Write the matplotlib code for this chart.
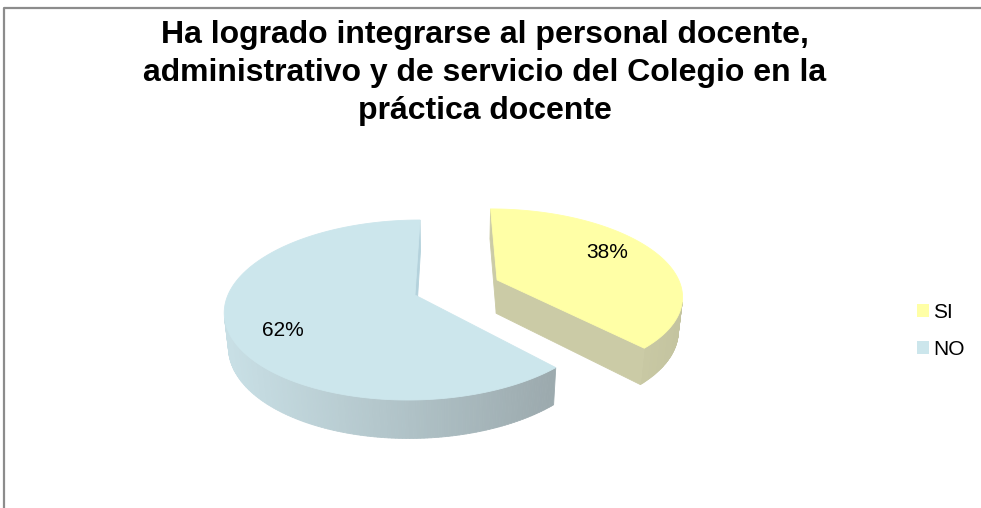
import numpy as np
import matplotlib.pyplot as plt
from matplotlib.patches import Polygon, Rectangle

# chart data
categories = ["SI", "NO"]
values = [38, 62]
pct_labels = ["38%", "62%"]
title_lines = ["Ha logrado integrarse al personal docente,",
               "administrativo y de servicio del Colegio en la",
               "práctica docente"]

top_colors = ["#FFFFA6", "#CCE6EC"]
cut_colors = ["#CBCBA6", "#B4D2DC"]
explode = [0.48, 0.0]

plt.rcParams['font.family'] = ['Liberation Sans', 'DejaVu Sans']

# fake 3d pie: simple perspective camera (pixel coords, y down)
S = 187.0
CX, CY = 450.5, 295.0
ELEV = np.radians(27.9)
DIST = 5.3
XCAM = 0.19
THICK = 0.21
cam = np.array([XCAM, -DIST * np.cos(ELEV), DIST * np.sin(ELEV)])


def project(X, Y, Z):
	u = X - XCAM
	v = Y * np.sin(ELEV) + Z * np.cos(ELEV)
	w = Y * np.cos(ELEV) - Z * np.sin(ELEV)
	k = DIST / (DIST + w)
	return CX + S * u * k, CY - S * v * k


def visible(normal, point):
	return np.dot(normal, cam - np.asarray(point)) > 0


def lerp(c1, c2, f):
	f = min(max(f, 0.0), 1.0)
	return tuple((a + (b - a) * f) / 255.0 for a, b in zip(c1, c2))


fig = plt.figure(figsize=(9.81, 5.08), dpi=100)
ax = fig.add_axes([0, 0, 1, 1])
ax.set_xlim(0, 981)
ax.set_ylim(508, 0)
ax.axis('off')

# chart frame (cut off at right and bottom)
ax.plot([4, 4, 990], [520, 8, 8], color='#8C8C8C', lw=1.6, solid_capstyle='butt')

total = float(sum(values))
start = 90.0
slices = []
for i, v in enumerate(values):
	sweep = 360.0 * v / total
	a0, a1 = start, start - sweep
	mid = np.radians((a0 + a1) / 2)
	ox, oy = explode[i] * np.cos(mid), explode[i] * np.sin(mid)
	slices.append((i, a0, a1, ox, oy))
	start = a1

order = [1, 0]
for i, a0, a1, ox, oy in [slices[j] for j in order]:
	angs = np.radians(np.linspace(a1, a0, 240))
	# outer wall
	for a, b in zip(angs[:-1], angs[1:]):
		m = (a + b) / 2
		n = np.array([np.cos(m), np.sin(m), 0.0])
		p = (ox + np.cos(m), oy + np.sin(m), -THICK / 2)
		if not visible(n, p):
			continue
		pts = [project(ox + np.cos(a), oy + np.sin(a), 0),
		       project(ox + np.cos(b), oy + np.sin(b), 0),
		       project(ox + np.cos(b), oy + np.sin(b), -THICK),
		       project(ox + np.cos(a), oy + np.sin(a), -THICK)]
		xm = pts[0][0]
		if i == 1:
			col = lerp((200, 223, 229), (156, 170, 174), (xm - 230) / 320)
		else:
			col = lerp((206, 206, 168), (196, 196, 160), (xm - 600) / 80)
		ax.add_patch(Polygon(pts, closed=True, fc=col, ec=col, lw=0.6))
	# radial cut faces
	for ang, sign in ((a0, 1), (a1, -1)):
		r = np.radians(ang)
		n = np.array([np.cos(r + sign * np.pi / 2), np.sin(r + sign * np.pi / 2), 0.0])
		pmid = (ox + 0.5 * np.cos(r), oy + 0.5 * np.sin(r), -THICK / 2)
		if not visible(n, pmid):
			continue
		pts = [project(ox, oy, 0),
		       project(ox + np.cos(r), oy + np.sin(r), 0),
		       project(ox + np.cos(r), oy + np.sin(r), -THICK),
		       project(ox, oy, -THICK)]
		ax.add_patch(Polygon(pts, closed=True, fc=cut_colors[i], ec=cut_colors[i], lw=0.6))
	# top face
	pts = [project(ox, oy, 0)] + [project(ox + np.cos(t), oy + np.sin(t), 0) for t in angs]
	ax.add_patch(Polygon(pts, closed=True, fc=top_colors[i], ec=top_colors[i], lw=0.6))

# percent labels
label_r = [0.74, 0.75]
label_turn = [6.4, 8.4]
for i, a0, a1, ox, oy in slices:
	mid = np.radians((a0 + a1) / 2 + label_turn[i])
	lx, ly = project(ox + label_r[i] * np.cos(mid), oy + label_r[i] * np.sin(mid), 0)
	ax.text(lx, ly, pct_labels[i], ha='center', va='center', fontsize=15, color='black')

# title
for k, line in enumerate(title_lines):
	ax.text(485, 43 + 38 * k, line, ha='center', va='baseline',
	        fontsize=23, fontweight='bold', color='black')

# legend
handles = [Rectangle((0, 0), 1, 1, fc=top_colors[i], ec='none') for i in range(len(categories))]
fig.legend(handles, categories, loc='center left', bbox_to_anchor=(898 / 981, 1 - 331 / 508),
           frameon=False, fontsize=15, handlelength=0.58, handleheight=0.58,
           handletextpad=0.2, labelspacing=0.85)

fig.savefig('out.png', dpi=100)
